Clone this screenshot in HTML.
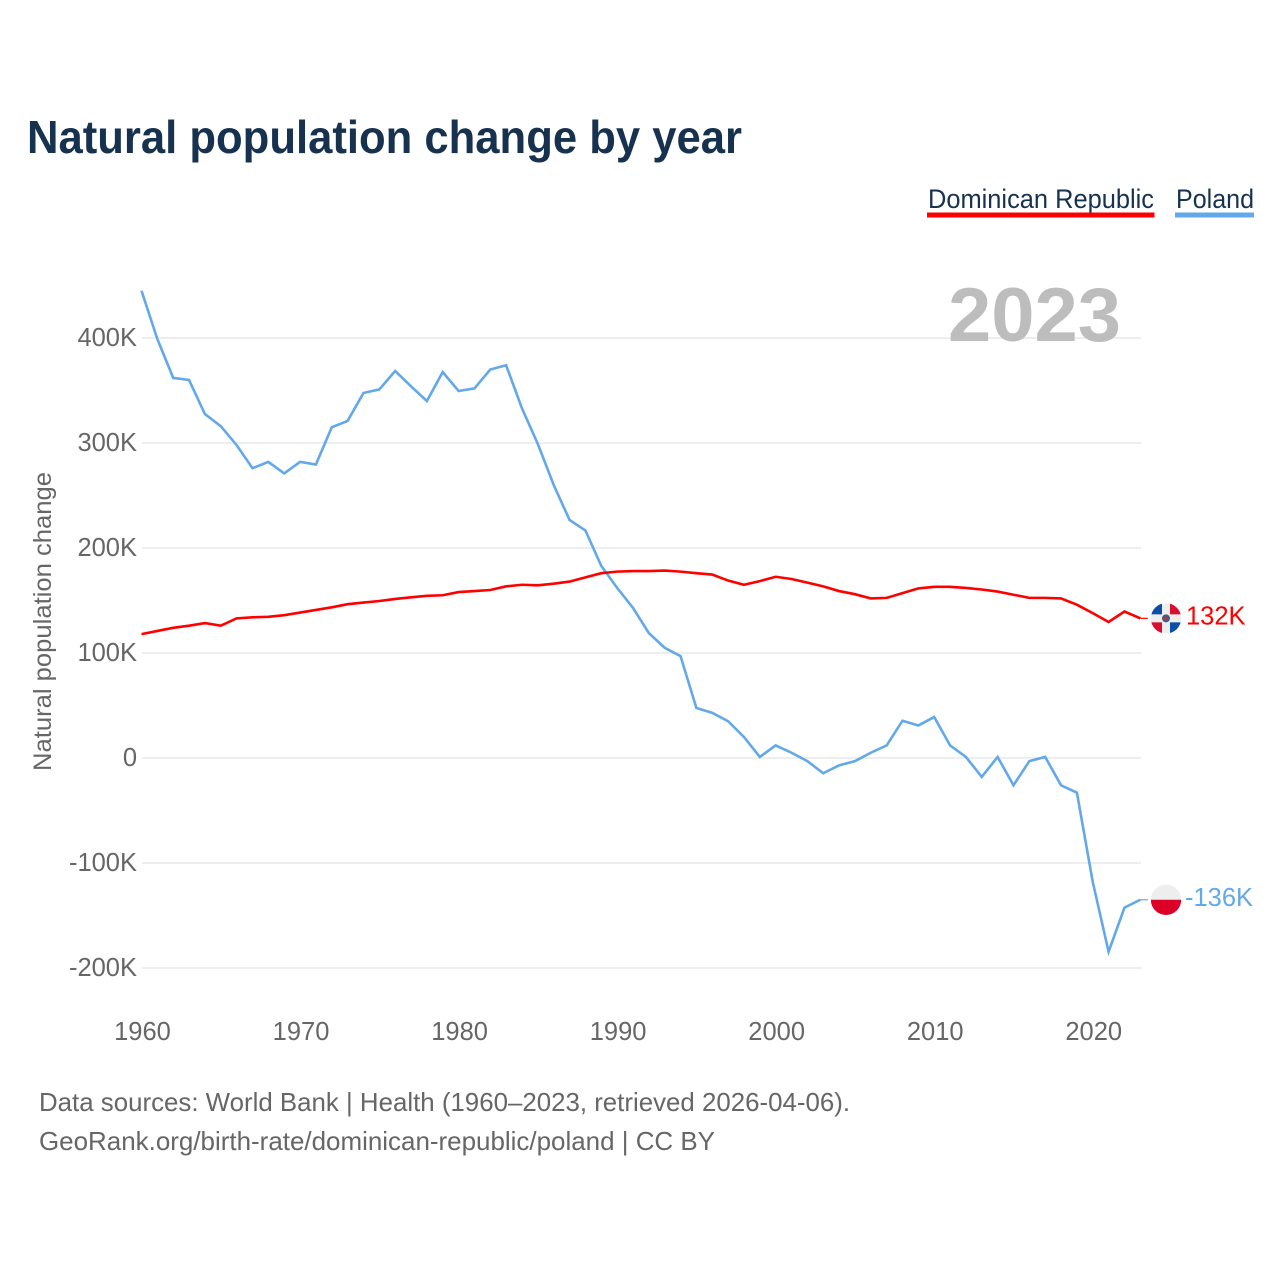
<!DOCTYPE html>
<html lang="en">
<head>
<meta charset="utf-8">
<title>Natural population change by year</title>
<style>
  html, body { margin: 0; padding: 0; background: #fff; }
  svg { display: block; font-family: "Liberation Sans", sans-serif; }
</style>
</head>
<body>
<svg id="chart" xmlns="http://www.w3.org/2000/svg" width="1280" height="1280" viewBox="0 0 1280 1280">
  <rect width="1280" height="1280" fill="#ffffff"/>
  <text x="27" y="153" font-size="46" font-weight="700" fill="#17324f" textLength="715" lengthAdjust="spacingAndGlyphs">Natural population change by year</text>

  <g>
    <text x="928" y="208" font-size="27" fill="#17324f" textLength="226" lengthAdjust="spacingAndGlyphs">Dominican Republic</text>
    <rect x="927" y="212.5" width="227.5" height="5" fill="#ff0000"/>
  </g>
  <g>
    <text x="1176" y="208" font-size="27" fill="#17324f" textLength="78" lengthAdjust="spacingAndGlyphs">Poland</text>
    <rect x="1175" y="212.5" width="79" height="5" fill="#63a8ea"/>
  </g>

  <text transform="translate(51 771) rotate(-90)" font-size="25" fill="#666666" textLength="299" lengthAdjust="spacingAndGlyphs">Natural population change</text>

  <g id="grid"></g>
  <text x="948" y="341" font-size="76" font-weight="700" fill="#bdbdbd" textLength="173" lengthAdjust="spacingAndGlyphs">2023</text>
  <g id="yticks"></g>
  <g id="xticks"></g>
  <g id="series"></g>
  <g id="ends"></g>

  <text x="39" y="1111" font-size="26" fill="#666666" textLength="811" lengthAdjust="spacingAndGlyphs">Data sources: World Bank | Health (1960–2023, retrieved 2026-04-06).</text>
  <text x="39" y="1150" font-size="26" fill="#666666" textLength="676" lengthAdjust="spacingAndGlyphs">GeoRank.org/birth-rate/dominican-republic/poland | CC BY</text>
</svg>
<script>
const startYear = 1960;
const xTickYears = [1960, 1970, 1980, 1990, 2000, 2010, 2020];
const yTickValues = [-200, -100, 0, 100, 200, 300, 400];
const yTickLabels = ['-200K', '-100K', '0', '100K', '200K', '300K', '400K'];

const dominicanValues = [118, 121, 124, 126, 128.5, 126, 133, 134, 134.5, 136,
  138.5, 141, 143.5, 146.5, 148, 149.5, 151.5, 153, 154.5, 155,
  158, 159, 160, 163.5, 165, 164.5, 166, 168, 172, 176,
  177.5, 178, 178, 178.5, 177.5, 176, 174.7, 169, 165, 168.5,
  172.6, 170.5, 167, 163.5, 159, 156, 152, 152.5, 157, 161.5,
  163, 163, 162, 160.5, 158.5, 155.5, 152.5, 152.5, 152, 146,
  138, 129.5, 139.5, 133];
const polandValues = [445, 399, 362, 360, 327.6, 316, 298, 276, 282, 271,
  282, 279.5, 315, 321, 347.6, 351, 368.6, 354, 340, 367.6,
  349.5, 352, 370, 374, 333, 299, 260, 226.7, 216.7, 183,
  162, 143, 119, 105, 97, 47.6, 43, 35, 20, 1,
  12, 5, -3, -14.5, -7, -3, 5, 12, 35.5, 31,
  39, 12, 1, -18, 1, -26, -3, 1, -26, -33,
  -118, -184.5, -142.5, -135];
const endLabels = ['132K', '-136K'];

const NS = 'http://www.w3.org/2000/svg';
function xScale(year) { return 141.5 + (year - 1960) * 15.854; }
function yScale(value) { return 758 - value * 1.05; }

function make(tag, attrs, parent) {
  const node = document.createElementNS(NS, tag);
  for (const key in attrs) node.setAttribute(key, attrs[key]);
  parent.appendChild(node);
  return node;
}

const gridGroup = document.getElementById('grid');
const yTickGroup = document.getElementById('yticks');
yTickValues.forEach(function (value, i) {
  const line = make('line', { x1: 142, x2: 1141, y1: yScale(value), y2: yScale(value), stroke: '#eeeeee', 'stroke-width': 2 }, gridGroup);
  
  
  const label = make('text', { x: 137, y: yScale(value) + 8, 'text-anchor': 'end', 'font-size': 25.5, fill: '#666666' }, yTickGroup);
  label.textContent = yTickLabels[i];
  
  
});

const xTickGroup = document.getElementById('xticks');
xTickYears.forEach(function (year) {
  const label = make('text', { x: xScale(year) + 1, y: 1040, 'text-anchor': 'middle', 'font-size': 25.5, fill: '#666666' }, xTickGroup);
  label.textContent = String(year);
  
  
});

function pointsFor(values) {
  return values.map(function (v, i) { return xScale(startYear + i).toFixed(2) + ',' + yScale(v).toFixed(2); }).join(' ');
}

const seriesGroup = document.getElementById('series');
const polandLine = make('polyline', { points: pointsFor(polandValues), fill: 'none', stroke: '#63a8ea', 'stroke-width': 2.6, 'stroke-linejoin': 'miter' }, seriesGroup);


const dominicanLine = make('polyline', { points: pointsFor(dominicanValues), fill: 'none', stroke: '#ff0000', 'stroke-width': 2.6, 'stroke-linejoin': 'miter' }, seriesGroup);



const endGroup = document.getElementById('ends');
const flagX = 1166;
const flagR = 15.2;
const lastYear = startYear + dominicanValues.length - 1;

const clipDefs = make('defs', {}, endGroup);
const domY = yScale(dominicanValues[dominicanValues.length - 1]);
const polY = yScale(polandValues[polandValues.length - 1]);
make('circle', { cx: flagX, cy: domY, r: flagR, id: 'clip-circle-do' }, make('clipPath', { id: 'clip-do' }, clipDefs));
make('circle', { cx: flagX, cy: polY, r: flagR, id: 'clip-circle-pl' }, make('clipPath', { id: 'clip-pl' }, clipDefs));

const domConnector = make('line', { x1: xScale(lastYear), x2: flagX - flagR - 3, y1: domY, y2: domY, stroke: '#ff0000', 'stroke-width': 1.2 }, endGroup);


const polConnector = make('line', { x1: xScale(lastYear), x2: flagX - flagR - 3, y1: polY, y2: polY, stroke: '#63a8ea', 'stroke-width': 1.2 }, endGroup);



const domFlag = make('g', { 'clip-path': 'url(#clip-do)' }, endGroup);


make('rect', { x: flagX - flagR, y: domY - flagR, width: 2 * flagR, height: 2 * flagR, fill: '#eeeeee' }, domFlag);
make('rect', { x: flagX - flagR, y: domY - flagR, width: flagR - 4, height: flagR - 4, fill: '#0a4fa6' }, domFlag);
make('rect', { x: flagX + 4, y: domY - flagR, width: flagR - 4, height: flagR - 4, fill: '#d80f2e' }, domFlag);
make('rect', { x: flagX - flagR, y: domY + 4, width: flagR - 4, height: flagR - 4, fill: '#d80f2e' }, domFlag);
make('rect', { x: flagX + 4, y: domY + 4, width: flagR - 4, height: flagR - 4, fill: '#0a4fa6' }, domFlag);
make('circle', { cx: flagX, cy: domY, r: 4, fill: '#3c5f86' }, domFlag);
make('circle', { cx: flagX, cy: domY, r: 1.8, fill: '#d8243a' }, domFlag);

const polFlag = make('g', { 'clip-path': 'url(#clip-pl)' }, endGroup);


make('rect', { x: flagX - flagR, y: polY - flagR, width: 2 * flagR, height: flagR, fill: '#eeeeee' }, polFlag);
make('rect', { x: flagX - flagR, y: polY, width: 2 * flagR, height: flagR + 0.5, fill: '#dc0028' }, polFlag);

const domLabel = make('text', { x: 1186, y: domY + 6, 'font-size': 25.5, fill: '#ff0000' }, endGroup);
domLabel.textContent = endLabels[0];


const polLabel = make('text', { x: 1185, y: polY + 6, 'font-size': 25.5, fill: '#63a8ea' }, endGroup);
polLabel.textContent = endLabels[1];


</script>
</body>
</html>
